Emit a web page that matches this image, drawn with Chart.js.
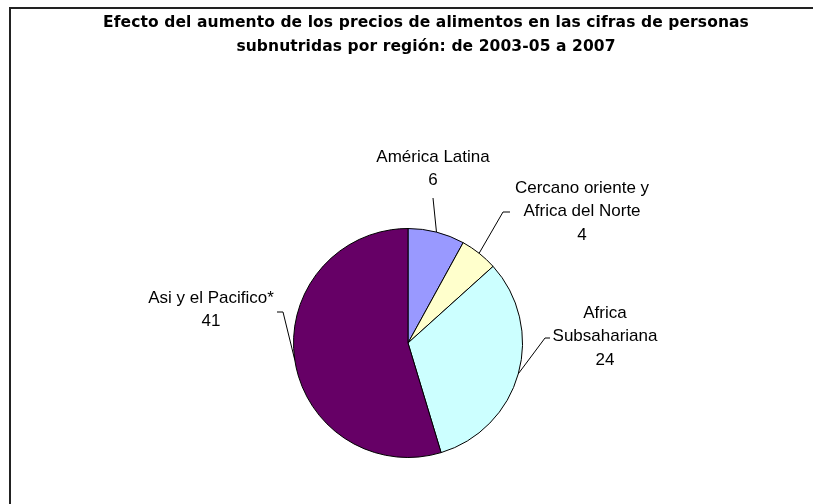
<!DOCTYPE html>
<html>
<head>
<meta charset="utf-8">
<script src="https://cdn.jsdelivr.net/npm/chart.js@4/dist/chart.umd.min.js"></script>
<style>
  html, body { margin: 0; padding: 0; background: #fff; }
  canvas { display: block; }
</style>
</head>
<body>
<canvas id="preciosChart" width="813" height="504"></canvas>
<script>
// Datos por región (millones de personas)
const regiones = [
    ['América Latina'],
    ['Cercano oriente y', 'Africa del Norte'],
    ['Africa', 'Subsahariana'],
    ['Asi y el Pacifico*']
];
const personas = [6, 4, 24, 41];
const titulo = [
    'Efecto del aumento de los precios de alimentos en las cifras de personas',
    'subnutridas por región: de 2003-05 a 2007'
];

const colores = ['#9999FF', '#FFFFCC', '#CCFFFF', '#660066'];

// posición de cada etiqueta respecto al centro del pastel
const etiquetas = [
    { dx: 25, dy: -186 },
    { dx: 174, dy: -155, codo: [95, -131], fin: [102, -131] },
    { dx: 197, dy: -30, codo: [137, -5], fin: [142, -5] },
    { dx: -197, dy: -45, codo: [-125, -31], fin: [-131, -31] }
];

// marco, título y etiquetas con líneas guía
const decoracion = {
    id: 'decoracion',
    afterDraw(chart) {
        const ctx = chart.ctx;
        ctx.save();

        ctx.strokeStyle = '#222';
        ctx.lineWidth = 2;
        ctx.beginPath();
        ctx.moveTo(10, 504);
        ctx.lineTo(10, 8);
        ctx.lineTo(813, 8);
        ctx.stroke();

        ctx.fillStyle = '#000';
        ctx.textAlign = 'center';
        ctx.textBaseline = 'middle';
        ctx.font = "bold 15.5px 'DejaVu Sans', Verdana, sans-serif";
        ctx.letterSpacing = '0.1px';
        titulo.forEach((linea, i) => ctx.fillText(linea, 426, 23 + i * 24));
        ctx.letterSpacing = '0px';

        const arcos = chart.getDatasetMeta(0).data;
        ctx.font = "17px 'Liberation Sans', Arial, sans-serif";
        ctx.lineWidth = 1;
        ctx.strokeStyle = '#000';
        arcos.forEach((arco, i) => {
            const cx = arco.x, cy = arco.y;
            const medio = (arco.startAngle + arco.endAngle) / 2;
            const ex = cx + arco.outerRadius * Math.cos(medio);
            const ey = cy + arco.outerRadius * Math.sin(medio);
            const e = etiquetas[i];
            const lineas = regiones[i].concat(String(personas[i]));

            lineas.forEach((t, j) => ctx.fillText(t, cx + e.dx, cy + e.dy + j * 23.5));

            ctx.beginPath();
            ctx.moveTo(ex, ey);
            if (e.codo) {
                ctx.lineTo(cx + e.codo[0], cy + e.codo[1]);
                ctx.lineTo(cx + e.fin[0], cy + e.fin[1]);
            } else {
                ctx.lineTo(cx + e.dx, cy + e.dy + lineas.length * 23.5 - 6);
            }
            ctx.stroke();
        });
        ctx.restore();
    }
};

const ctx = document.getElementById('preciosChart').getContext('2d');
const preciosChart = new Chart(ctx, {
    type: 'pie',
    data: {
        labels: regiones,
        datasets: [{
            data: personas,
            backgroundColor: colores,
            borderColor: '#000',
            borderWidth: 1
        }]
    },
    options: {
        responsive: false,
        animation: false,
        layout: {
            padding: { top: 228, bottom: 46, left: 293, right: 290 }
        },
        plugins: {
            legend: { display: false },
            tooltip: { enabled: false },
            title: { display: false }
        }
    },
    plugins: [decoracion]
});
</script>
</body>
</html>
